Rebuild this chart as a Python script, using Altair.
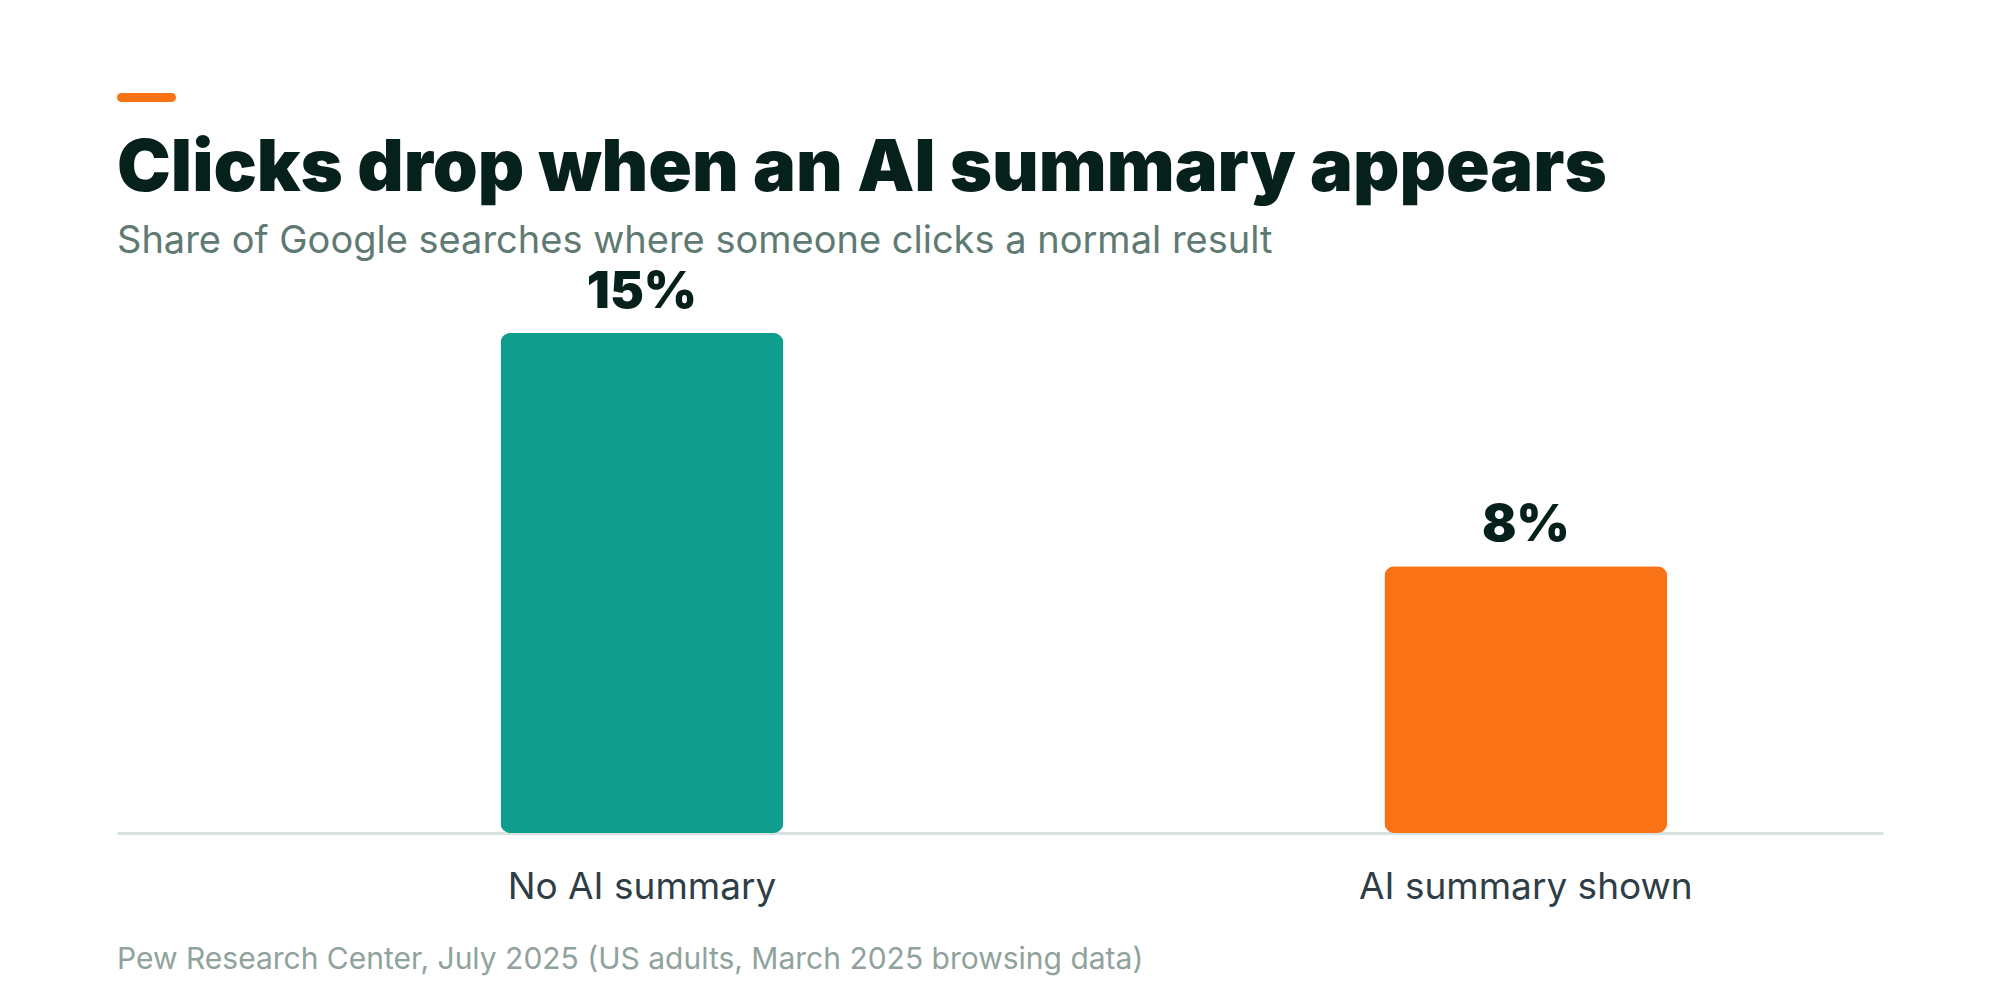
import altair as alt
import pandas as pd

categories = ["No AI summary", "AI summary shown"]
values = [15, 8]
value_labels = ["15%", "8%"]
bar_colors = ["#0f9d8e", "#f97316"]

title_text = ["Clicks drop when an AI summary appears"]
subtitle_text = ["Share of Google searches where someone clicks a normal result"]
footer_text = ["Pew Research Center, July 2025 (US adults, March 2025 browsing data)"]

df = pd.DataFrame({"category": categories, "value": values, "label": value_labels})
df_note = pd.DataFrame({"title": title_text, "subtitle": subtitle_text, "note": footer_text})

FONT = "Inter"

x_enc = alt.X(
    "category:N",
    sort=categories,
    scale=alt.Scale(paddingInner=0.68, paddingOuter=0.339, align=0.64),
    axis=alt.Axis(
        title=None,
        labelAngle=0,
        ticks=False,
        labelFontSize=37,
        labelFont=FONT,
        labelColor="#2f3e46",
        labelPadding=36,
        labelLimit=1000,
        domainColor="#d6e3df",
        domainWidth=3,
        grid=False,
    ),
)
y_enc = alt.Y("value:Q", scale=alt.Scale(domain=[0, 15]), axis=None)

bars = alt.Chart(df).mark_bar(cornerRadius=10).encode(
    x=x_enc,
    y=y_enc,
    color=alt.Color("category:N", scale=alt.Scale(domain=categories, range=bar_colors), legend=None),
)

labels = alt.Chart(df).mark_text(
    font=FONT, fontSize=51, fontWeight=900, color="#06201b", baseline="alphabetic", dy=-25
).encode(x=x_enc, y=y_enc, text="label:N")

title = alt.Chart(df_note).mark_text(
    font=FONT, fontSize=72, fontWeight=900, color="#06201b", align="left", baseline="alphabetic"
).encode(x=alt.value(0), y=alt.value(-142), text="title:N")

subtitle = alt.Chart(df_note).mark_text(
    font=FONT, fontSize=38, color="#5f7a72", align="left", baseline="alphabetic"
).encode(x=alt.value(0), y=alt.value(-80), text="subtitle:N")

footer = alt.Chart(df_note).mark_text(
    font=FONT, fontSize=30, color="#8fa39c", align="left", baseline="alphabetic"
).encode(x=alt.value(0), y=alt.value(636), text="note:N")

accent = alt.Chart(df_note).mark_rule(color="#f97316", strokeWidth=9, strokeCap="round").encode(
    x=alt.value(4.5), x2=alt.value(54.5), y=alt.value(-235.5)
)

chart = (
    alt.layer(bars, labels, title, subtitle, footer, accent)
    .properties(
        width=1766,
        height=500,
        padding={"left": 117, "top": 333, "right": 117, "bottom": 167},
        autosize=alt.AutoSizeParams(type="none"),
        view=alt.ViewConfig(stroke="transparent", strokeWidth=0),
    )
    .configure_view(stroke="transparent", strokeWidth=0)
    .configure(background="white")
)

chart.save("out.html", embed_options={"renderer": "svg", "actions": False})
